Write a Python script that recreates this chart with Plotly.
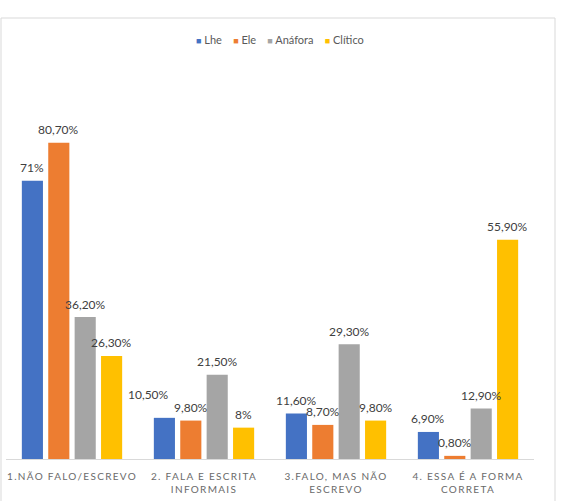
import plotly.graph_objects as go

categories = ["1.NÃO FALO/ESCREVO", "2. FALA E ESCRITA<br>INFORMAIS",
              "3.FALO, MAS NÃO<br>ESCREVO", "4. ESSA É A FORMA<br>CORRETA"]
series_names = ["Lhe", "Ele", "Anáfora", "Clítico"]
lhe = [71.0, 10.5, 11.6, 6.9]
ele = [80.7, 9.8, 8.7, 0.8]
anafora = [36.2, 21.5, 29.3, 12.9]
clitico = [26.3, 8.0, 9.8, 55.9]
colors = ["#4472C4", "#ED7D31", "#A5A5A5", "#FFC000"]

def fmt(v):
    if float(v).is_integer():
        return f"{int(v)}%"
    return f"{v:.2f}".replace(".", ",") + "%"

FONT = "Lato, 'Open Sans', sans-serif"
W, H = 561, 501
L, R, T, B = 6, 27, 67, 42
BARGAP = 0.2

pw = W - L - R
ph = H - T - B
all_series = [lhe, ele, anafora, clitico]
n = len(all_series)
slot = pw / len(categories) * (1 - BARGAP) / n

# label nudges (px) for labels Excel moved to avoid overlaps: (series, category) -> (dx, dy)
nudges = {(0, 1): (-16, 10)}

fig = go.Figure()
annotations = []
for i, (name, vals, col) in enumerate(zip(series_names, all_series, colors)):
    fig.add_trace(go.Bar(
        x=categories, y=vals, name=name, marker=dict(color=col, line=dict(width=0)),
        showlegend=False,
    ))
    for j, v in enumerate(vals):
        dx, dy = nudges.get((i, j), (0, 0))
        annotations.append(dict(
            x=categories[j], y=v, xref="x", yref="y", text=fmt(v), showarrow=False,
            xanchor="center", yanchor="middle",
            xshift=(i - (n - 1) / 2) * slot + dx, yshift=13 + dy,
            font=dict(family=FONT, size=12, color="#404040")))

legend_txt = "&nbsp;&nbsp;&nbsp;&nbsp;".join(
    f"<span style='color:{c};font-size:9px'>■</span> {nm}" for nm, c in zip(series_names, colors))
annotations.append(dict(text=legend_txt, xref="paper", yref="paper",
                        x=(280 - L) / pw, y=(H - B - 39) / ph,
                        xanchor="center", yanchor="middle", showarrow=False,
                        font=dict(family=FONT, size=11, color="#595959")))

fig.update_layout(
    width=W, height=H,
    margin=dict(l=L, r=R, t=T, b=B),
    paper_bgcolor="white", plot_bgcolor="white",
    barmode="group", bargap=BARGAP, bargroupgap=0.2,
    font=dict(family=FONT, color="#595959"),
    xaxis=dict(showline=True, linecolor="#D9D9D9", linewidth=1, ticks="",
               showgrid=False, zeroline=False, ticklabelstandoff=8,
               tickfont=dict(family=FONT, size=10, color="#6A6A6A")),
    yaxis=dict(range=[0, 100], visible=False, showgrid=False, zeroline=False),
    annotations=annotations,
    shapes=[dict(type="rect", xref="paper", yref="paper",
                 x0=(1 - L) / pw, x1=(555 - L) / pw,
                 y0=(H - B - 520) / ph, y1=(H - B - 18) / ph,
                 line=dict(color="#D9D9D9", width=1), fillcolor="rgba(0,0,0,0)",
                 layer="below")],
)

post = ("var s=document.createElement('style');"
        "s.textContent='.xtick text{letter-spacing:1.3px;}';"
        "document.head.appendChild(s);")
fig.write_html("out.html", post_script=post)
